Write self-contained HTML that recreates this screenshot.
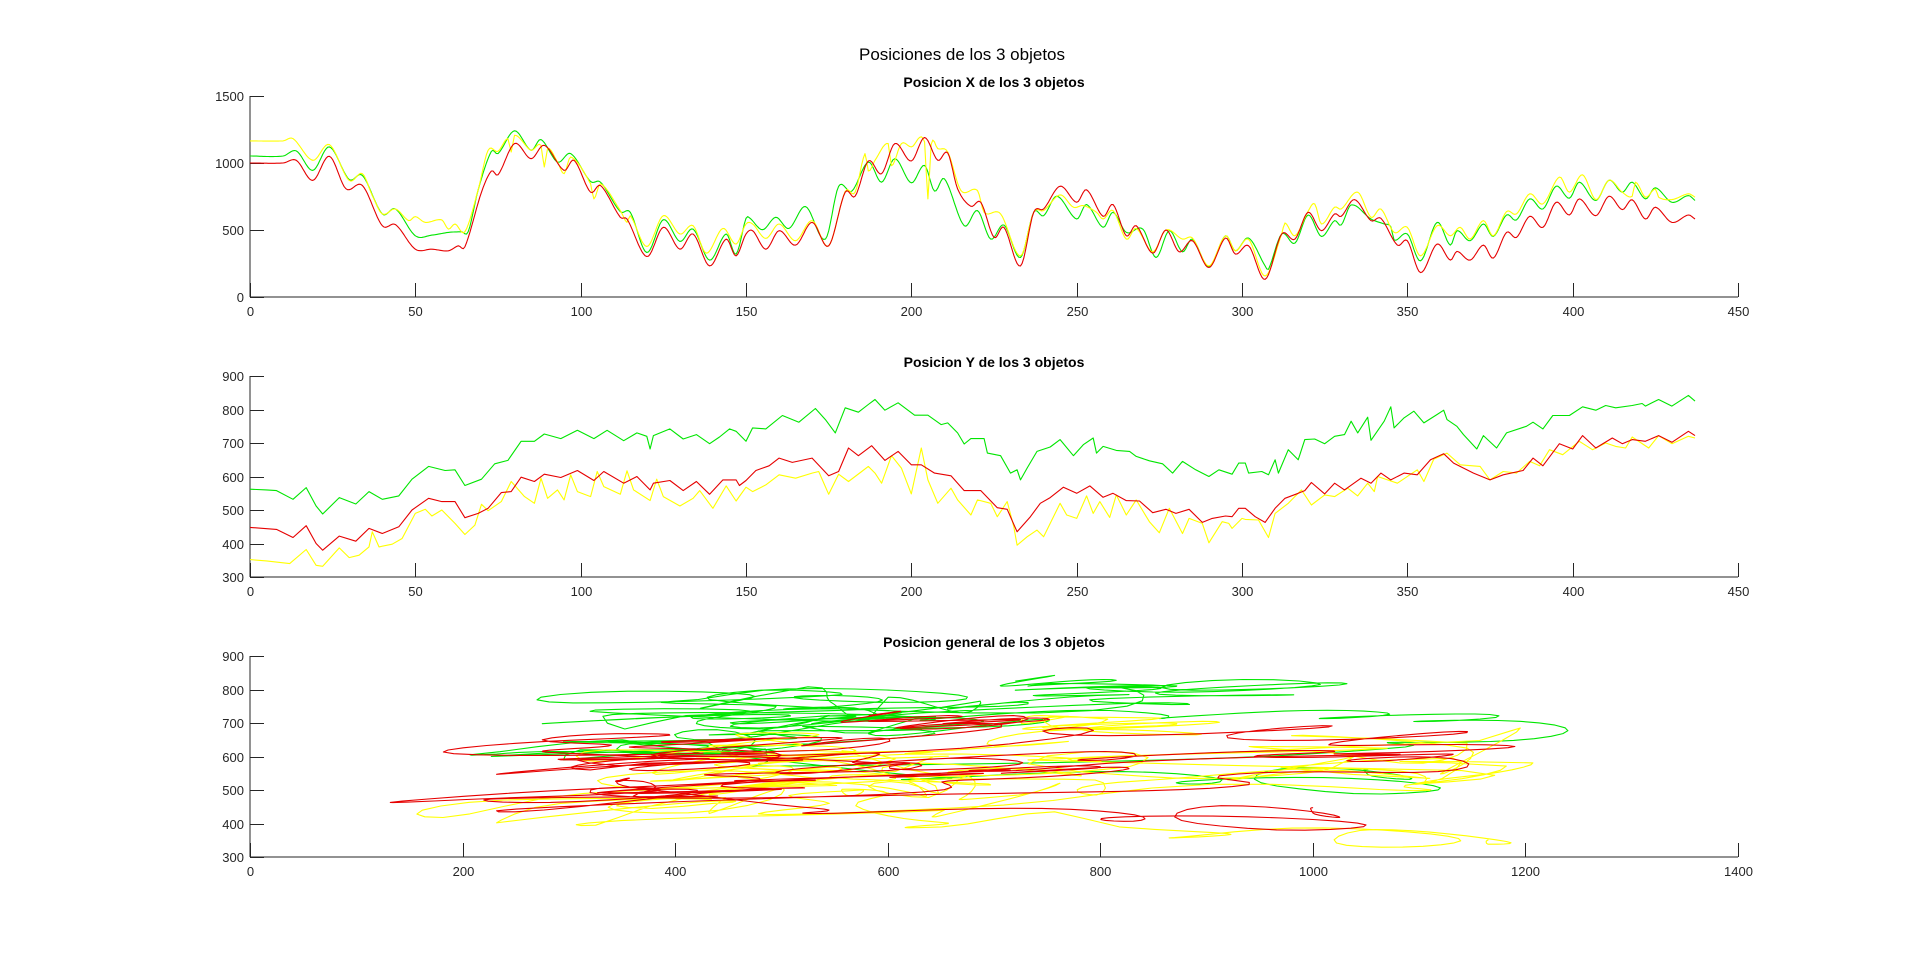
<!DOCTYPE html>
<html><head><meta charset="utf-8">
<style>
html,body{margin:0;padding:0;background:#fff;}
svg{display:block;font-family:"Liberation Sans",Arial,sans-serif;}
</style></head>
<body>
<svg id="fig" width="1920" height="955" viewBox="0 0 1920 955" xmlns="http://www.w3.org/2000/svg">
<rect width="1920" height="955" fill="#ffffff"/>
<text x="962" y="60" text-anchor="middle" font-size="17" fill="#000">Posiciones de los 3 objetos</text>
<g id="g1"></g>
<g id="g2"></g>
<g id="g3"></g>
</svg>
<script>
// [frame, value] pairs
const redX=[[0,1000],[10,1000],[14,1020],[19,870],[24,1050],[29,808],[34,832],[40,532],[44,540],[50,357],[55,357],[60,345],[63,382],[65,375],[70,782],[73,940],[75,912],[80,1145],[85,1032],[89,1132],[95,945],[98,1020],[103,782],[106,832],[112,595],[114,582],[120,302],[125,520],[130,357],[134,470],[139,232],[144,432],[147,307],[150,470],[152,495],[156,357],[160,495],[165,387],[170,557],[175,382],[180,782],[183,752],[187,1015],[191,920],[195,1145],[200,1015],[204,1190],[208,1020],[211,1075],[214,807],[218,677],[221,707],[225,445],[228,520],[233,232],[237,632],[240,657],[245,827],[250,707],[253,800],[258,602],[261,690],[265,457],[268,532],[273,327],[277,500],[281,337],[285,420],[290,220],[295,440],[298,320],[302,382],[307,132],[312,470],[316,432],[320,632],[324,495],[328,620],[330,602],[334,727],[339,570],[342,587],[347,387],[350,420],[354,182],[359,395],[363,275],[365,340],[369,275],[373,387],[376,290],[380,482],[383,445],[387,602],[391,520],[395,707],[399,612],[402,732],[407,607],[411,752],[415,652],[418,725],[422,582],[425,670],[430,557],[435,612],[437,582]];
const greenX=[[0,1052],[10,1052],[14,1090],[19,945],[24,1120],[30,877],[34,907],[40,620],[44,657],[50,457],[55,462],[60,482],[64,487],[66,487],[69,800],[73,1087],[75,1070],[80,1240],[85,1095],[88,1175],[93,1007],[97,1070],[103,862],[106,857],[112,637],[115,632],[120,332],[125,577],[130,415],[134,507],[139,275],[144,470],[147,320],[150,587],[151,592],[155,502],[159,595],[163,512],[168,675],[174,432],[178,825],[182,790],[187,1007],[191,857],[195,1032],[200,852],[204,982],[207,790],[210,882],[216,532],[220,645],[224,432],[228,537],[233,295],[237,632],[240,607],[244,752],[250,582],[253,690],[258,520],[261,632],[265,482],[270,507],[274,295],[278,495],[282,337],[285,432],[290,227],[295,457],[298,345],[302,440],[307,232],[308,207],[312,470],[316,402],[320,612],[324,452],[328,570],[330,537],[333,687],[339,582],[343,545],[345,525],[346,425],[350,470],[354,270],[359,557],[363,387],[365,495],[369,420],[373,545],[376,452],[380,612],[383,575],[387,732],[391,657],[395,827],[399,737],[402,857],[407,720],[411,872],[415,782],[418,857],[422,732],[425,815],[430,707],[435,757],[437,720]];
const yellowX=[[0,1165],[10,1165],[13,1182],[19,1020],[24,1137],[30,870],[34,920],[37,757],[40,620],[44,657],[48,570],[50,600],[53,557],[58,575],[60,507],[62,545],[65,487],[69,800],[72,1095],[75,1087],[78,1182],[79,1082],[80,1207],[85,1095],[88,1132],[89,970],[90,1110],[93,1007],[95,920],[97,1045],[103,845],[104,732],[106,845],[112,645],[114,557],[115,607],[120,377],[125,607],[130,470],[134,532],[138,327],[143,512],[147,395],[150,545],[152,545],[156,437],[160,545],[165,420],[170,570],[175,382],[180,787],[183,782],[186,1070],[187,940],[189,1020],[193,1145],[194,980],[197,1145],[200,1120],[204,1157],[205,732],[206,1140],[208,1107],[211,1082],[215,795],[220,795],[222,632],[227,620],[233,307],[237,632],[240,645],[245,762],[249,670],[252,682],[256,632],[258,582],[261,645],[265,432],[268,512],[273,337],[277,500],[282,432],[285,440],[290,232],[295,457],[298,345],[302,430],[307,157],[312,470],[313,552],[316,457],[320,640],[322,695],[324,545],[328,670],[330,657],[335,782],[339,595],[342,657],[346,482],[350,520],[354,307],[359,532],[363,457],[366,520],[369,432],[373,570],[376,457],[380,637],[383,620],[387,770],[391,695],[396,895],[399,782],[403,912],[407,727],[411,872],[415,782],[418,752],[419,857],[422,745],[425,807],[426,745],[430,727],[435,770],[437,745]];
const redY=[[0,448],[8,442],[13,418],[17,453],[20,400],[22,380],[27,422],[32,407],[36,445],[40,430],[45,450],[49,500],[54,535],[58,525],[62,525],[65,477],[69,490],[72,505],[76,552],[79,555],[82,598],[86,585],[89,607],[94,597],[99,618],[104,588],[107,615],[113,580],[117,600],[121,560],[122,580],[127,588],[131,558],[135,585],[139,547],[143,590],[147,590],[148,573],[150,588],[153,618],[157,632],[160,655],[164,642],[170,655],[175,602],[178,615],[181,685],[184,662],[188,692],[192,648],[196,675],[200,635],[203,635],[207,610],[212,602],[216,558],[221,558],[226,507],[229,502],[232,435],[236,480],[239,520],[242,537],[246,568],[250,550],[254,572],[258,538],[261,550],[265,528],[269,527],[273,492],[277,502],[280,490],[284,502],[288,463],[291,475],[295,482],[297,480],[299,505],[301,505],[304,480],[307,463],[310,505],[313,535],[317,550],[319,558],[321,582],[325,548],[328,580],[331,560],[336,595],[339,580],[342,610],[345,590],[349,610],[353,605],[357,650],[361,668],[364,640],[370,610],[375,590],[379,605],[385,618],[388,655],[391,632],[396,698],[400,682],[403,722],[407,685],[412,715],[415,698],[418,710],[422,705],[426,722],[430,702],[435,735],[437,722]];
const greenY=[[0,562],[5,560],[8,558],[13,532],[17,567],[20,512],[22,488],[27,537],[32,518],[36,555],[40,532],[45,542],[49,592],[54,630],[59,618],[62,620],[65,573],[70,592],[74,638],[78,648],[82,705],[86,705],[89,727],[94,713],[99,738],[104,713],[108,738],[113,707],[117,730],[120,720],[121,682],[122,722],[127,742],[131,712],[135,725],[139,698],[142,718],[145,742],[147,735],[150,705],[152,745],[156,742],[161,782],[166,762],[171,803],[174,770],[177,730],[180,805],[184,792],[187,815],[189,830],[192,798],[196,820],[201,783],[205,783],[209,755],[211,760],[214,730],[216,697],[218,713],[222,713],[223,670],[227,662],[230,610],[232,620],[233,590],[235,625],[238,675],[242,688],[245,710],[249,662],[252,695],[255,715],[256,670],[258,690],[262,678],[266,675],[268,660],[272,647],[276,638],[279,610],[282,645],[286,620],[290,600],[293,620],[297,607],[299,640],[301,640],[302,610],[306,615],[308,605],[310,650],[311,610],[314,680],[317,650],[319,710],[322,712],[325,698],[328,720],[331,725],[333,765],[335,730],[338,777],[339,708],[343,765],[345,808],[346,745],[349,775],[352,795],[355,760],[359,785],[361,798],[362,770],[365,750],[367,725],[371,682],[373,722],[377,685],[380,730],[386,750],[388,762],[391,742],[394,782],[399,782],[403,808],[407,798],[410,812],[413,805],[418,812],[421,818],[422,810],[426,830],[430,810],[435,842],[437,825]];
const yellowY=[[0,352],[5,348],[12,340],[17,382],[20,335],[22,332],[27,387],[30,358],[33,365],[36,390],[37,435],[39,390],[43,398],[46,415],[50,490],[53,502],[55,482],[58,500],[62,460],[65,427],[68,455],[70,517],[72,498],[76,525],[79,585],[83,540],[86,520],[88,595],[90,535],[93,560],[95,530],[97,605],[99,555],[103,540],[105,615],[107,570],[112,547],[114,617],[116,560],[121,528],[123,592],[125,540],[130,512],[134,535],[136,558],[140,505],[144,572],[147,527],[150,568],[152,555],[156,575],[160,605],[165,595],[170,610],[172,615],[175,547],[178,607],[181,585],[185,615],[187,630],[189,610],[191,580],[194,662],[197,625],[200,548],[203,685],[205,590],[208,520],[212,565],[214,530],[218,485],[220,530],[224,520],[226,480],[229,525],[231,450],[232,395],[235,420],[238,440],[240,420],[245,520],[247,485],[250,475],[253,542],[255,490],[257,525],[260,478],[262,545],[265,485],[268,530],[272,465],[275,432],[278,505],[282,430],[284,475],[288,460],[290,402],[294,465],[296,460],[297,445],[300,475],[301,472],[305,470],[308,418],[310,490],[314,520],[318,560],[321,515],[325,545],[328,540],[332,565],[335,542],[338,580],[340,555],[341,600],[347,580],[353,620],[355,585],[358,652],[362,670],[366,635],[372,630],[375,590],[379,615],[383,610],[387,645],[390,632],[393,680],[397,665],[402,705],[406,680],[410,700],[413,690],[416,685],[418,718],[423,685],[426,722],[430,698],[435,720],[437,715]];
const frameTicks=[0,50,100,150,200,250,300,350,400,450];
const xTicks1=[0,500,1000,1500];
const yTicks2=[300,400,500,600,700,800,900];
const xTicks3=[0,200,400,600,800,1000,1200,1400];
const yTicks3=[300,400,500,600,700,800,900];
const lastFrame=437;

const NS="http://www.w3.org/2000/svg";
const AX={l:250,r:1738};
const COL={red:"#e60000",green:"#00e600",yellow:"#ffff00"};
function mk(tag,attrs,parent){const e=document.createElementNS(NS,tag);for(const k in attrs)e.setAttribute(k,attrs[k]);parent.appendChild(e);return e;}
function scale(d0,d1,r0,r1){return v=>r0+(v-d0)/(d1-d0)*(r1-r0);}
// smooth (Catmull-Rom style Hermite) evaluation between read points
function smooth(pairs,t){
  const n=pairs.length;
  if(t<=pairs[0][0])return pairs[0][1];
  if(t>=pairs[n-1][0])return pairs[n-1][1];
  let i=1;while(pairs[i][0]<t)i++;
  const p1=pairs[i-1],p2=pairs[i];
  const p0=pairs[Math.max(0,i-2)],p3=pairs[Math.min(n-1,i+1)];
  const h=p2[0]-p1[0];
  const m1=(p2[1]-p0[1])/((p2[0]-p0[0])||1)*h;
  const m2=(p3[1]-p1[1])/((p3[0]-p1[0])||1)*h;
  const s=(t-p1[0])/h,s2=s*s,s3=s2*s;
  return (2*s3-3*s2+1)*p1[1]+(s3-2*s2+s)*m1+(-2*s3+3*s2)*p2[1]+(s3-s2)*m2;
}
function axes(g,top,bot,xd,yd,xt,yt,title,prefix){
  const sx=scale(xd[0],xd[1],AX.l,AX.r), sy=scale(yd[0],yd[1],bot,top);
  const t=mk("text",{x:(AX.l+AX.r)/2,y:top-9,"text-anchor":"middle","font-size":"14","font-weight":"bold",fill:"#000"},g);
  t.textContent=title;
  
  
  const xa=mk("line",{x1:AX.l,y1:bot,x2:AX.r,y2:bot,stroke:"#262626","stroke-width":"1"},g);
  
  
  const ya=mk("line",{x1:AX.l,y1:top,x2:AX.l,y2:bot,stroke:"#262626","stroke-width":"1"},g);
  
  
  xt.forEach(v=>{const x=Math.round(sx(v))+0.5;
    const tk=mk("line",{x1:x,y1:bot,x2:x,y2:bot-14,stroke:"#262626"},g);
    
    
    const lb=mk("text",{x:x,y:bot+19,"text-anchor":"middle","font-size":"13",fill:"#262626"},g);lb.textContent=v;
    
    });
  yt.forEach(v=>{const y=Math.round(sy(v))+0.5;
    const tk=mk("line",{x1:AX.l,y1:y,x2:AX.l+14,y2:y,stroke:"#262626"},g);
    
    
    const lb=mk("text",{x:AX.l-6,y:y+4.5,"text-anchor":"end","font-size":"13",fill:"#262626"},g);lb.textContent=v;
    
    });
  return {sx,sy};
}
function line(g,pts,color,name){
  const p=mk("polyline",{points:pts.map(q=>q[0].toFixed(1)+","+q[1].toFixed(1)).join(" "),fill:"none",stroke:color,"stroke-width":"1.1","stroke-linejoin":"round"},g);
  
  
}
// subplot 1 (smooth)
{const g=document.getElementById("g1");const a=axes(g,96,297,[0,450],[0,1500],frameTicks,xTicks1,"Posicion X de los 3 objetos","x-position");
 [["green",greenX],["yellow",yellowX],["red",redX]].forEach(([c,d])=>{
   const pts=[];const end=d[d.length-1][0];
   for(let t=0;t<=end;t+=0.5)pts.push([a.sx(t),a.sy(smooth(d,t))]);
   line(g,pts,COL[c],c+'-x-line');});}
// subplot 2
{const g=document.getElementById("g2");const a=axes(g,376,577,[0,450],[300,900],frameTicks,yTicks2,"Posicion Y de los 3 objetos","y-position");
 [["green",greenY],["yellow",yellowY],["red",redY]].forEach(([c,d])=>line(g,d.map(p=>[a.sx(p[0]),a.sy(p[1])]),COL[c],c+'-y-line'));}
// subplot 3
{const g=document.getElementById("g3");const a=axes(g,656,857,[0,1400],[300,900],xTicks3,yTicks3,"Posicion general de los 3 objetos","general-position");
 [["green",greenX,greenY],["yellow",yellowX,yellowY],["red",redX,redY]].forEach(([c,dx,dy])=>{
   const pts=[];for(let t=0;t<=lastFrame;t+=0.5)pts.push([a.sx(smooth(dx,t)),a.sy(smooth(dy,t))]);
   line(g,pts,COL[c],c+'-trajectory');});}
</script>
</body></html>
